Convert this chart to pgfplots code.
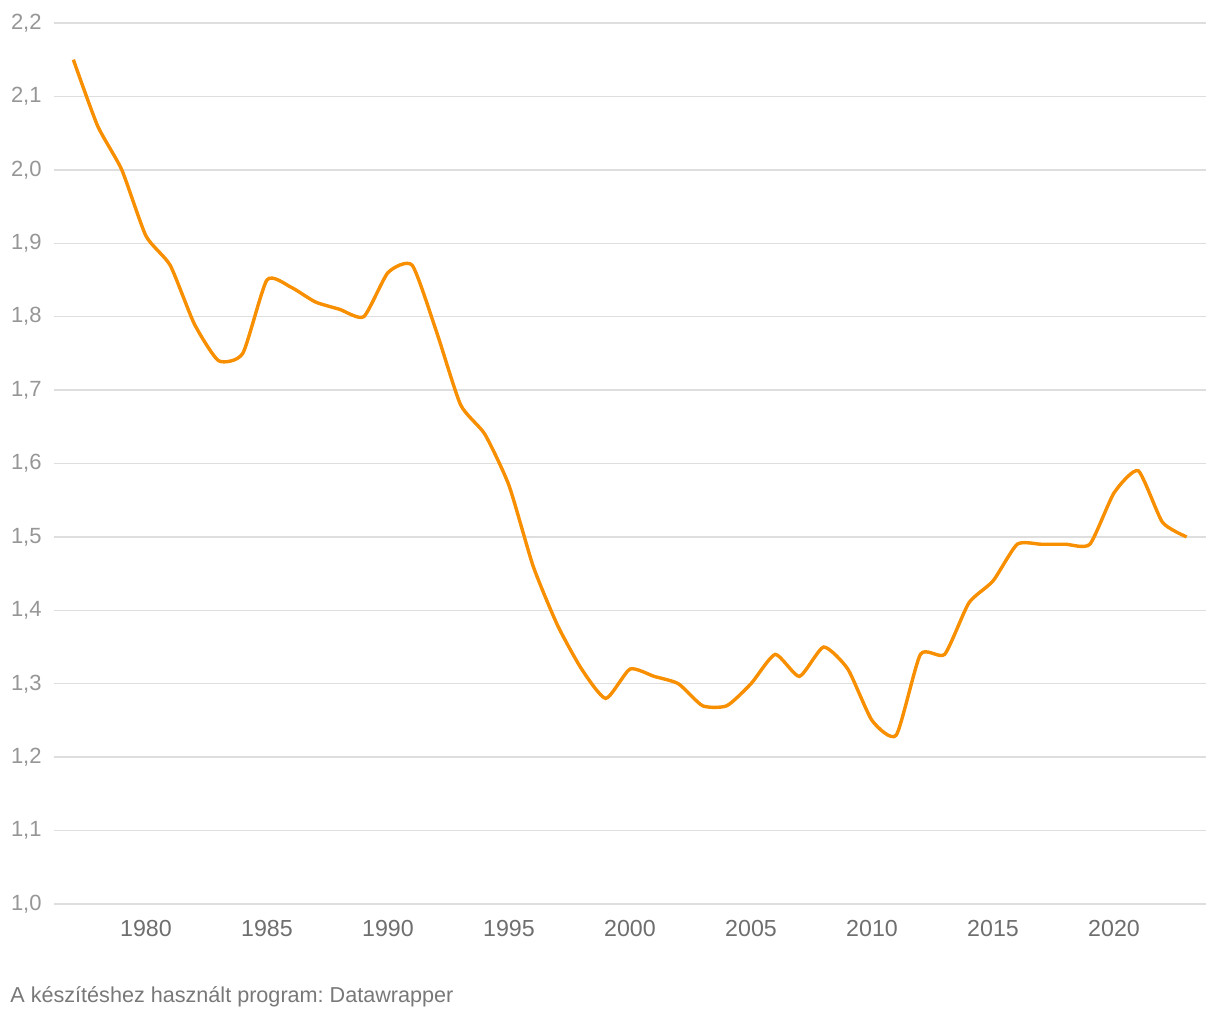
\documentclass[border=0pt]{standalone}
\usepackage{fontspec}
\setmainfont{Liberation Sans}
\usepackage{pgfplots}
\pgfplotsset{compat=1.18}
\definecolor{lineor}{RGB}{247,143,0}
\definecolor{gridc}{RGB}{222,222,222}
\definecolor{ylab}{RGB}{150,150,150}
\definecolor{xlab}{RGB}{110,110,110}
\definecolor{foot}{RGB}{120,120,120}
\frenchspacing
\begin{document}
\begin{tikzpicture}
\useasboundingbox (-27pt,-58pt) rectangle (583pt,452pt);
\begin{axis}[
  at={(0pt,0pt)}, anchor=origin,
  scale only axis,
  width=576pt, height=440.5pt,
  xmin=1976.2, xmax=2023.8,
  ymin=1.0, ymax=2.2,
  axis line style={draw=none},
  major tick length=0pt,
  xtick={1980,1985,...,2020},
  ytick={1.0,1.1,...,2.2},
  ymajorgrids, grid style={gridc, line width=0.7pt},
  /pgf/number format/assume math mode=true,
  xticklabel style={/pgf/number format/1000 sep={}, anchor=north, inner sep=0pt, yshift=-8pt, font=\fontsize{11.6pt}{13pt}\selectfont, text=xlab},
  yticklabel style={/pgf/number format/.cd, use comma, fixed, fixed zerofill, precision=1, /tikz/.cd, anchor=east, inner sep=0pt, xshift=-6pt, font=\fontsize{11pt}{13pt}\selectfont, text=ylab},
  clip=false,
]
\addplot[lineor, line width=1.7pt, smooth, tension=0.35] coordinates {
(1977,2.15) (1978,2.06) (1979,2.00) (1980,1.91) (1981,1.87) (1982,1.79)
(1983,1.74) (1984,1.75) (1985,1.85) (1986,1.84) (1987,1.82) (1988,1.81)
(1989,1.80) (1990,1.86) (1991,1.87) (1992,1.78) (1993,1.68) (1994,1.64)
(1995,1.57) (1996,1.46) (1997,1.38) (1998,1.32) (1999,1.28) (2000,1.32)
(2001,1.31) (2002,1.30) (2003,1.27) (2004,1.27) (2005,1.30) (2006,1.34)
(2007,1.31) (2008,1.35) (2009,1.32) (2010,1.25) (2011,1.23) (2012,1.34)
(2013,1.34) (2014,1.41) (2015,1.44) (2016,1.49) (2017,1.49) (2018,1.49)
(2019,1.49) (2020,1.56) (2021,1.59) (2022,1.52) (2023,1.50)
};
\end{axis}
\node[anchor=base west, inner sep=0pt, text=foot, font=\fontsize{10.8pt}{12pt}\selectfont] at (-22pt,-49.5pt) {A készítéshez használt program: Datawrapper};
\end{tikzpicture}
\end{document}
